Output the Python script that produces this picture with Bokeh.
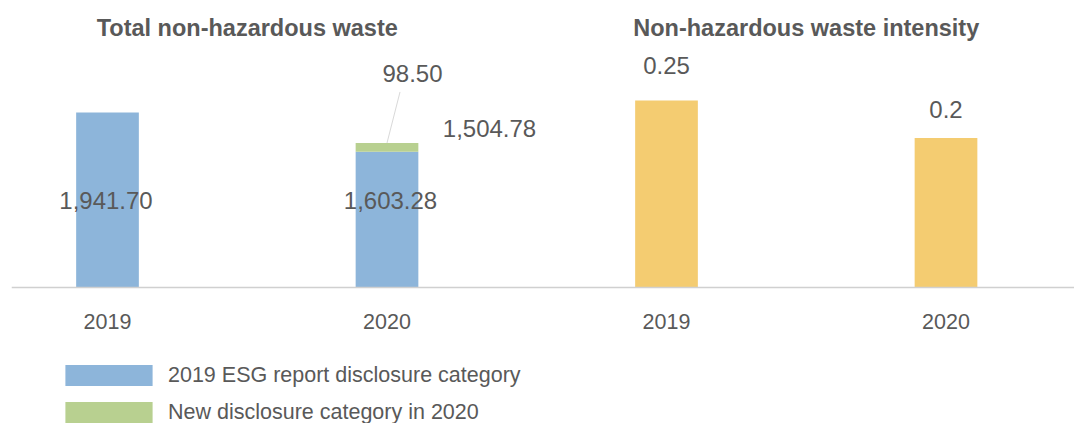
from bokeh.plotting import figure
from bokeh.models import Range1d, FixedTicker, Legend, LegendItem, ColumnDataSource
from bokeh.core.properties import value
from bokeh.embed import file_html
from bokeh.resources import INLINE

# ---------------- data ----------------
years = ["2019", "2020"]
waste_2019_category = [1941.70, 1504.78]   # tonnes, 2019 ESG report disclosure category
waste_new_category = [0.0, 98.50]          # tonnes, new disclosure category in 2020
waste_total = [1941.70, 1603.28]           # tonnes, total
waste_intensity = [0.25, 0.2]              # intensity
panel_titles = ["Total non-hazardous waste", "Non-hazardous waste intensity"]
legend_labels = ["2019 ESG report disclosure category", "New disclosure category in 2020"]

# ---------------- styling / layout ----------------
FONT = value("Liberation Sans")
TXT = "#595959"
BLUE, GREEN, YELLOW = "#8DB5DA", "#B8D090", "#F4CC71"
W, H = 1074, 423
LEFT_BORDER = 11
SLOT = 279.5                 # px per category slot
X_START = (32.75 + LEFT_BORDER) / SLOT
X_END = (W + 32.75) / SLOT
BASE = 287                   # baseline, px from frame top
LEFT_PX = 0.09013            # px per tonne
RIGHT_PX = 748.0             # px per intensity unit
BAR_W = 62.7 / SLOT

def fmt(v):
    return f"{v:,.2f}"

left_x = [i + 0.5 for i in range(len(years))]
right_x = [len(years) + i + 0.5 for i in range(len(years))]

p = figure(width=W, height=H, output_backend="svg", toolbar_location=None,
           x_range=Range1d(X_START, X_END),
           y_range=Range1d(-(H - BASE) / LEFT_PX, BASE / LEFT_PX),
           min_border=0, min_border_left=LEFT_BORDER, min_border_right=0,
           min_border_top=0, min_border_bottom=0)
p.extra_y_ranges = {"intensity": Range1d(-(H - BASE) / RIGHT_PX, BASE / RIGHT_PX)}
p.outline_line_color = None
p.grid.visible = False
p.yaxis.visible = False
p.background_fill_color = "white"
p.border_fill_color = "white"

# stacked bars, left panel
src = ColumnDataSource(dict(x=left_x, base=waste_2019_category, new=waste_new_category,
                            zero=[0.0] * len(years),
                            top2=[a + b for a, b in zip(waste_2019_category, waste_new_category)]))
r_blue = p.vbar(x="x", bottom="zero", top="base", width=BAR_W, color=BLUE, line_color=None, source=src)
r_green = p.vbar(x="x", bottom="base", top="top2", width=BAR_W, color=GREEN, line_color=None, source=src)

# intensity bars, right panel
p.vbar(x=right_x, top=waste_intensity, bottom=0, width=BAR_W, color=YELLOW, line_color=None,
       y_range_name="intensity")

# x axis at baseline
ax = p.xaxis[0]
ax.fixed_location = 0
ax.ticker = FixedTicker(ticks=left_x + right_x)
ax.major_label_overrides = {x: y for x, y in zip(left_x + right_x, years + years)}
ax.axis_line_color = "#D0D0D0"
ax.axis_line_width = 1.5
ax.major_tick_line_color = None
ax.minor_tick_line_color = None
ax.major_label_text_font = "Liberation Sans"
ax.major_label_text_font_size = "21.5px"
ax.major_label_text_color = TXT
ax.major_label_standoff = 20

common = dict(text_font=FONT, text_color=TXT, text_align="center", text_baseline="middle")

# titles
p.text(x=[len(years) / 2, len(years) + len(years) / 2], y=[BASE / LEFT_PX] * 2,
       text=panel_titles, y_offset=[27, 27], text_font_size="23.5px",
       text_font_style="bold", **common)

# left labels
p.text(x=left_x, y=[970, 965], text=[fmt(waste_total[0]), fmt(waste_total[1])],
       x_offset=[-1.5, 3.5], text_font_size="24px", **common)
p.text(x=[left_x[1]], y=[waste_2019_category[1]], text=[fmt(waste_2019_category[1])],
       x_offset=[102.5], y_offset=[-23.5], text_font_size="24px", **common)
p.text(x=[left_x[1]], y=[waste_total[1]], text=[fmt(waste_new_category[1])],
       x_offset=[25.5], y_offset=[-69], text_font_size="24px", **common)
# leader line for new category label
p.segment(x0=[left_x[1]], y0=[waste_total[1]], x1=[left_x[1] + 13 / SLOT],
          y1=[waste_total[1] + 51 / LEFT_PX], line_color="#D9D9D9", line_width=1)

# right labels
p.text(x=right_x, y=waste_intensity, text=[str(v) for v in waste_intensity],
       y_offset=[-35, -28], text_font_size="24px", y_range_name="intensity", **common)

legend = Legend(items=[LegendItem(label=legend_labels[0], renderers=[r_blue]),
                       LegendItem(label=legend_labels[1], renderers=[r_green])],
                location=(54 - LEFT_BORDER, -2), margin=0, padding=0, spacing=11,
                glyph_width=109, glyph_height=26, label_standoff=5,
                label_text_font="Liberation Sans", label_text_font_size="21.5px",
                label_text_color=TXT, border_line_color=None,
                background_fill_alpha=0)
p.add_layout(legend, "center")

open("out.html", "w").write(file_html(p, INLINE))
